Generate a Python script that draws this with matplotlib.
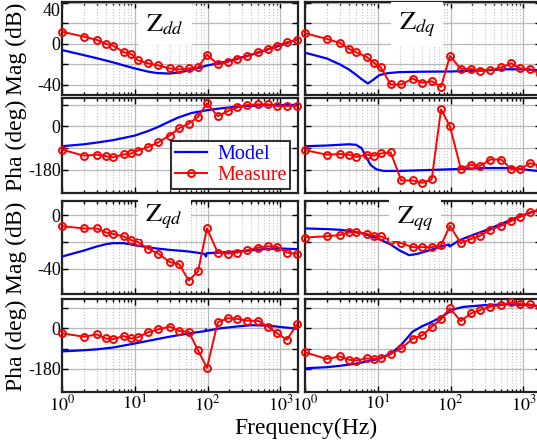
import matplotlib
matplotlib.use('Agg')
import matplotlib.pyplot as plt
from matplotlib.ticker import LogLocator, NullFormatter

plt.rcParams['font.family'] = 'serif'
plt.rcParams['font.serif'] = ['Liberation Serif', 'DejaVu Serif']
plt.rcParams['mathtext.fontset'] = 'stix'
plt.rcParams['axes.unicode_minus'] = False

# measured frequency points (Hz), shared by all four impedances
freq_meas = [1, 2, 3, 4, 5, 7, 9, 11, 15, 21, 30, 41, 55, 74, 98, 138,
             190, 255, 350, 500, 680, 900, 1230, 1700]

# ---- Zdd ----
dd_mag_meas = [12, 7, 4, 0, -1.6, -8, -10, -16, -19, -21, -24, -25, -24, -23,
               -10.5, -20, -17.5, -15, -12, -8, -5, -1.6, 1.6, 4]
dd_ph_meas = [-96, -121, -117, -123, -128, -116, -112, -100, -86, -66, -38, -7,
              11, 39, 95, 42, 63, 78, 88, 91, 91, 84, 84, 84]
dd_mag_f = [1, 2, 3, 5, 7, 10, 15, 20, 30, 40, 55, 75, 100, 140, 200, 300,
            500, 700, 1000, 1300, 1750]
dd_mag_model = [-6, -11, -14, -18, -21, -24, -27, -28.5, -29, -28, -26, -23.5,
                -21, -19, -16.5, -13, -8.5, -5, -1.5, 1.5, 4.5]
dd_ph_f = [1, 2, 3, 5, 7, 10, 15, 20, 30, 40, 60, 100, 150, 250, 500, 1000, 1750]
dd_ph_model = [-82, -74, -67, -57, -48, -38, -20, -5, 20, 37, 55, 67, 74, 81,
               86, 88, 89]

# ---- Zdq ----
dq_mag_meas = [10.5, 4.8, 1, -4.8, -8, -12.7, -19, -23, -39.7, -39.7, -34, -38,
               -36.5, -42, -11.7, -24.4, -24.4, -26.3, -25.4, -23, -19, -23.8,
               -24.8, -29]
dq_ph_meas = [-98, -117, -114, -117, -126, -117, -121, -112, -107, -223, -223,
              -233, -219, 70, 0, -174, -159, -163, -137, -137, -177, -177,
              -152, -163]
dq_mag_f = [1, 2, 3, 4, 5, 6, 7.3, 8.5, 10.5, 14, 20, 40, 100, 300, 600, 1000, 1750]
dq_mag_model = [-8.6, -14.3, -20, -25, -30, -34.5, -38.7, -35.5, -30.5, -28.5,
                -27.6, -27.2, -27, -25.8, -24.8, -25, -25.8]
dq_ph_f = [1, 2, 3, 4, 5, 6, 7, 8, 9.5, 12, 20, 50, 100, 300, 700, 1200, 1750]
dq_ph_model = [-82, -79, -76, -74, -76, -90, -130, -160, -177, -184, -184,
               -180, -177, -172, -172, -180, -186]

# ---- Zqd ----
qd_mag_meas = [-8.3, -10, -10, -13, -14, -16, -18.8, -20, -25, -28.8, -35,
               -36.8, -49, -42, -10, -28, -28.8, -28, -26.3, -24.3, -23.3,
               -23.8, -28, -29]
qd_ph_meas = [-22, -37, -27, -45, -48, -34, -45, -40, -18, -4.5, 7.5, -12, -15,
              -97, -175, 27, 45, 42, 34, 33, 7.5, -22, -50, 18]
qd_mag_f = [1, 2, 3, 4, 5, 7, 10, 15, 20, 30, 50, 70, 90, 95, 97, 150, 300,
            600, 1000, 1750]
qd_mag_model = [-31, -26.5, -23.5, -21.8, -21, -21, -22.5, -24, -25, -26, -27,
                -28, -29, -31, -28.5, -28, -27, -25.5, -25, -25.5]
qd_ph_f = [1, 2, 3, 5, 10, 20, 30, 50, 80, 93, 95, 97, 150, 250, 400, 700,
           1000, 1750]
qd_ph_model = [-102, -97, -93, -85, -67, -48, -37, -25, -15, -12, -5, -11, 0,
               8, 14, 12, 6, -2]

# ---- Zqq ----
qq_mag_meas = [-16.8, -15.8, -15, -13, -13, -14, -15.5, -16, -18.8, -21, -24,
               -24, -24, -22.5, -8, -21, -18, -15.5, -11, -8, -4.5, -1.3, 2, 3.8]
qq_ph_meas = [-106, -136, -124, -139, -143, -133, -136, -133, -114, -89, -46,
              -31, 7, 40, 89, 32, 66, 81, 96, 103, 115, 108, 106, 96]
qq_mag_f = [1, 2, 3, 4, 6, 10, 15, 20, 27, 35, 50, 70, 95, 97, 130, 200, 300,
            500, 800, 1200, 1750]
qq_mag_model = [-10, -10.5, -11, -11.8, -13.5, -17.5, -22, -26.5, -30, -29,
                -26.5, -24, -22, -23.5, -19, -15, -11.5, -6.5, -2, 1.5, 4.5]
qq_ph_f = [1, 2, 3, 5, 10, 15, 20, 25, 30, 40, 50, 70, 95, 97, 150, 300, 600,
           1000, 1750]
qq_ph_model = [-177, -172, -166, -157, -136, -112, -80, -45, -15, 8, 22, 45,
               72, 80, 95, 103, 106, 104, 98]

panels = [
    ('dd', 0, dd_mag_meas, dd_ph_meas, dd_mag_f, dd_mag_model, dd_ph_f, dd_ph_model),
    ('dq', 1, dq_mag_meas, dq_ph_meas, dq_mag_f, dq_mag_model, dq_ph_f, dq_ph_model),
    ('qd', 0, qd_mag_meas, qd_ph_meas, qd_mag_f, qd_mag_model, qd_ph_f, qd_ph_model),
    ('qq', 1, qq_mag_meas, qq_ph_meas, qq_mag_f, qq_mag_model, qq_ph_f, qq_ph_model),
]

BLUE = '#0000ff'
RED = '#ff0000'

fig = plt.figure(figsize=(5.37, 4.44), dpi=100)

col_x = [0.1155, 0.568]
col_w = 0.4395
# (bottom, height) of mag and phase axes for the upper and lower block
row_pos = [((0.786, 0.2095), (0.5653, 0.214)),
           ((0.3378, 0.2095), (0.1171, 0.2095))]
mag_lims = [(-50, 41), (-59, 10.5)]
mag_ticks = [([-40, -20, 0, 20, 40], ['-40', '', '0', '', '40']),
             ([-40, -20, 0], ['-40', '', '0'])]
ph_lims = [(-275, 117), (-282, 130)]
title_pos = {'dd': (0.436, 0.76), 'dq': (0.474, 0.76),
             'qd': (0.433, 0.83), 'qq': (0.466, 0.81)}


def style(ax, bottom_labels):
    ax.set_xscale('log')
    ax.set_xlim(1, 1750)
    ax.xaxis.set_major_locator(LogLocator(base=10, numticks=10))
    ax.xaxis.set_minor_locator(LogLocator(base=10, subs=range(2, 10), numticks=20))
    ax.xaxis.set_minor_formatter(NullFormatter())
    ax.set_xticks([1, 10, 100, 1000])
    ax.set_xticklabels([r'$10^0$', r'$10^1$', r'$10^2$', r'$10^3$'])
    ax.tick_params(which='both', direction='in', top=True, right=True,
                   labelsize=13, width=1)
    ax.tick_params(axis='y', pad=1)
    ax.tick_params(axis='x', pad=2)
    ax.tick_params(which='major', length=4)
    ax.tick_params(which='minor', length=2)
    ax.tick_params(labelbottom=bottom_labels)
    ax.grid(True, which='major', color='#b8b8b8', lw=0.9, ls='-')
    ax.grid(True, which='minor', axis='x', color='#c4c4c4', lw=0.8, ls=':')
    ax.set_axisbelow(True)
    for sp in ax.spines.values():
        sp.set_linewidth(1.6)
        sp.set_color('#222222')


for i, (name, col, mag_m, ph_m, mf, mm, pf, pm) in enumerate(panels):
    row = i // 2
    (mb, mh), (pb, ph) = row_pos[row]
    ax_m = fig.add_axes([col_x[col], mb, col_w, mh])
    ax_p = fig.add_axes([col_x[col], pb, col_w, ph])

    ax_m.plot(mf, mm, color=BLUE, lw=1.6, zorder=3)
    ax_m.plot(freq_meas, mag_m, color=RED, lw=1.4, marker='o', ms=5,
              mfc='none', mew=1.4, zorder=4, clip_on=False)
    ax_p.plot(pf, pm, color=BLUE, lw=1.6, zorder=3, label='Model')
    ax_p.plot(freq_meas, ph_m, color=RED, lw=1.4, marker='o', ms=5,
              mfc='none', mew=1.4, zorder=4, clip_on=False, label='Measure')

    style(ax_m, False)
    style(ax_p, row == 1)

    ax_m.set_ylim(*mag_lims[row])
    ax_m.set_yticks(mag_ticks[row][0])
    ax_p.set_ylim(*ph_lims[row])
    ax_p.set_yticks([-180, -90, 0, 90])
    if col == 0:
        ax_m.set_yticklabels(mag_ticks[row][1])
        ax_p.set_yticklabels(['-180', '', '0', ''])
        ax_m.set_ylabel('Mag (dB)', fontsize=17)
        ax_p.set_ylabel('Pha (deg)', fontsize=17)
        ax_m.yaxis.set_label_coords(-0.15, 0.5)
        ax_p.yaxis.set_label_coords(-0.15, 0.5)
        if row == 0:
            # keep the top "40" inside the figure
            ax_m.get_yticklabels()[-1].set_va('top')
    else:
        ax_m.tick_params(labelleft=False)
        ax_p.tick_params(labelleft=False)

    tx, ty = title_pos[name]
    ax_m.text(tx, ty, r'$\mathrm{Z}_{%s}$' % name, transform=ax_m.transAxes,
              ha='center', va='center', fontsize=19, zorder=5,
              bbox=dict(boxstyle='square,pad=0.3', fc='white', ec='none'))

    if name == 'dd':
        leg = ax_p.legend(loc='lower right', bbox_to_anchor=(0.985, 0.0),
                          fontsize=14.5, frameon=True, fancybox=False,
                          borderpad=0.2, handlelength=1.6, handletextpad=0.5,
                          labelspacing=0.1, borderaxespad=0.2)
        leg.get_frame().set_edgecolor('black')
        leg.get_frame().set_linewidth(1.5)
        leg.set_zorder(10)
        for t, c in zip(leg.get_texts(), [BLUE, RED]):
            t.set_color(c)

fig.text(0.57, 0.036, 'Frequency(Hz)', ha='center', va='center', fontsize=17)

fig.savefig('out.png', dpi=100)
